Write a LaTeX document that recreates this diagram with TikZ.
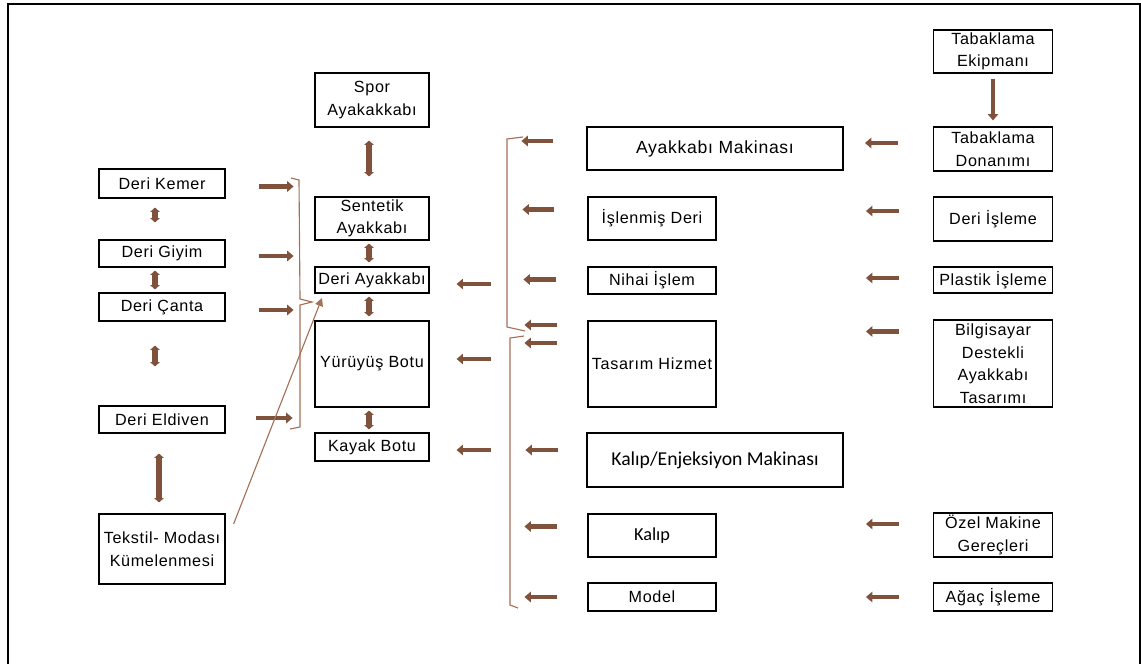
\documentclass[tikz,border=0pt]{standalone}
\usepackage{fontspec}
\setmainfont{Liberation Sans}[LetterSpace=4]
\newfontfamily\calibrifont{Carlito}
\usepackage{tikz}
\usetikzlibrary{arrows.meta, calc}
\definecolor{arrowbrown}{RGB}{128,82,60}
\definecolor{linebrown}{RGB}{165,112,88}

\begin{document}
\begin{tikzpicture}[x=0.025cm, y=-0.025cm,
    box/.style={draw=black, line width=0.8pt, align=center, inner sep=1pt,
                font=\fontsize{11.5}{16}\selectfont},
    lbox/.style={box, minimum width=3.15cm},
    mbox/.style={box, minimum width=2.85cm},
    rbox/.style={box, minimum width=3.2cm},
    wbox/.style={box, minimum width=6.4cm},
    ebox/.style={box, minimum width=2.975cm},
    fat/.style={draw=arrowbrown, line width=3.4pt, -{Triangle[length=1.6mm,width=2.6mm]}},
    fatboth/.style={draw=arrowbrown, line width=3.8pt,
        {Triangle[length=1.1mm,width=2.4mm]}-{Triangle[length=1.1mm,width=2.4mm]}},
    thin/.style={draw=linebrown, line width=0.8pt}
]
    \useasboundingbox (0,0) rectangle (1141,663);
    % frame
    \draw[line width=1.5pt] (8,700) -- (8,4) -- (1140,4) -- (1140,700);

    % leather goods
    \node[lbox, minimum height=0.725cm] (kemer) at (162,183.5) {Deri Kemer};
    \node[lbox, minimum height=0.675cm] (giyim) at (162,253.5) {Deri Giyim};
    \node[lbox, minimum height=0.7cm] (canta) at (162,307) {Deri Çanta};
    \node[lbox, minimum height=0.675cm] (eldiven) at (162,419.5) {Deri Eldiven};
    \node[lbox, minimum height=1.75cm] (tekstil) at (162,549) {Tekstil- Modası\\Kümelenmesi};

    \draw[fatboth] ($(kemer.south)+(-7,9)$) -- ($(giyim.north)+(-7,-17)$);
    \draw[fatboth] ($(giyim.south)+(-7,3)$) -- ($(canta.north)+(-7,-3)$);
    \draw[fatboth] ($(canta.south)+(-7,24)$) -- ($(eldiven.north)+(-7,-39)$);
    \draw[fatboth] ($(eldiven.south)+(-3,20)$) -- ($(tekstil.north)+(-3,-11)$);

    \draw[fat] ($(kemer.east)+(33,3)$) -- ++(35,0);
    \draw[fat] ($(giyim.east)+(33,2.5)$) -- ++(35,0);
    \draw[fat] ($(canta.east)+(33,3)$) -- ++(35,0);
    \draw[fat] ($(eldiven.east)+(30,-1.5)$) -- ++(37,0);

    \draw[thin] (291,178) -- (299,180) -- (300,299) -- (312,302) -- (300,305)
        -- (300,427) -- (290,429);

    % footwear
    \node[mbox, minimum height=1.35cm] (spor) at (372,100) {Spor\\Ayakakkabı};
    \node[mbox, minimum height=1.075cm] (sentetik) at (372,218.5) {Sentetik\\Ayakkabı};
    \node[mbox, minimum height=0.65cm] (deriayk) at (372,280) {Deri Ayakkabı};
    \node[mbox, minimum height=2.15cm] (yuruyus) at (372,364) {Yürüyüş Botu};
    \node[mbox, minimum height=0.7cm] (kayak) at (372,447) {Kayak Botu};

    \draw[fatboth] ($(spor.south)+(-3,13)$) -- ($(sentetik.north)+(-3,-20)$);
    \draw[fatboth] ($(sentetik.south)+(-3,3)$) -- ($(deriayk.north)+(-3,-4)$);
    \draw[fatboth] ($(deriayk.south)+(-3,3)$) -- ($(yuruyus.north)+(-3,-4)$);
    \draw[fatboth] ($(yuruyus.south)+(-3,3)$) -- ($(kayak.north)+(-3,-3)$);

    \draw[thin, -{Triangle[length=2mm,width=2mm]}] ($(tekstil.east)+(8,-25)$) -- (322,298);

    \draw[fat] ($(deriayk.east)+(61,4)$) -- ++(-34,0);
    \draw[fat] ($(yuruyus.east)+(61,-5)$) -- ++(-34,0);
    \draw[fat] ($(kayak.east)+(61,3)$) -- ++(-34,0);

    % machinery and services
    \node[wbox, minimum height=1.075cm, font=\fontsize{12.5}{15}\selectfont] (makina) at (715,148.5) {Ayakkabı Makinası};
    \node[rbox, minimum height=1.075cm] (islenmis) at (652,218.5) {İşlenmiş Deri};
    \node[rbox, minimum height=0.675cm] (nihai) at (652,280.5) {Nihai İşlem};
    \node[rbox, minimum height=2.15cm] (tasarim) at (652,364) {Tasarım Hizmet};
    \node[wbox, minimum height=1.35cm, font=\calibrifont\fontsize{14}{16}\selectfont] (kalipenj) at (715,460) {Kalıp/Enjeksiyon Makinası};
    \node[rbox, minimum height=1.075cm, font=\calibrifont\fontsize{13}{16}\selectfont] (kalip) at (652,535.5) {Kalıp};
    \node[rbox, minimum height=0.7cm] (model) at (652,597) {Model};

    \draw[fat] ($(makina.west)+(-33,-7.5)$) -- ++(-32,0);
    \draw[fat] ($(islenmis.west)+(-33,-9)$) -- ++(-32,0);
    \draw[fat] ($(nihai.west)+(-31,-1)$) -- ++(-33,0);
    \draw[fat] ($(tasarim.west)+(-30,-39)$) -- ++(-33,0);
    \draw[fat] ($(tasarim.west)+(-30,-21)$) -- ++(-33,0);
    \draw[fat] ($(kalipenj.west)+(-28,-10)$) -- ++(-33,0);
    \draw[fat] ($(kalip.west)+(-30,-9)$) -- ++(-33,0);
    \draw[fat] ($(model.west)+(-30,0)$) -- ++(-33,0);

    \draw[thin] (523,137) -- (507,139) -- (507,327) -- (525,331);
    \draw[thin] (524,336) -- (510,338) -- (510,605) -- (518,608);

    % suppliers
    \node[ebox, minimum height=1.075cm] (ekipman) at (993,51.5) {Tabaklama\\Ekipmanı};
    \node[ebox, minimum height=1.1cm] (donanim) at (993,149) {Tabaklama\\Donanımı};
    \node[ebox, minimum height=1.1cm] (deriisl) at (993,219) {Deri İşleme};
    \node[ebox, minimum height=0.65cm] (plastik) at (993,280) {Plastik İşleme};
    \node[ebox, minimum height=2.175cm] (cad) at (993,363.5) {Bilgisayar\\Destekli\\Ayakkabı\\Tasarımı};
    \node[ebox, minimum height=1.1cm] (ozel) at (993,535) {Özel Makine\\Gereçleri};
    \node[ebox, minimum height=0.7cm] (agac) at (993,597) {Ağaç İşleme};

    \draw[fat] ($(ekipman.south)+(0,5)$) -- ($(donanim.north)+(0,-6)$);

    \draw[fat] ($(donanim.west)+(-35,-6)$) -- ++(-33,0);
    \draw[fat] ($(deriisl.west)+(-34,-8)$) -- ++(-33,0);
    \draw[fat] ($(plastik.west)+(-34,-2)$) -- ++(-33,0);
    \draw[fat] ($(cad.west)+(-34,-32)$) -- ++(-33,0);
    \draw[fat] ($(ozel.west)+(-34,-11)$) -- ++(-33,0);
    \draw[fat] ($(agac.west)+(-34,0)$) -- ++(-33,0);
\end{tikzpicture}
\end{document}
